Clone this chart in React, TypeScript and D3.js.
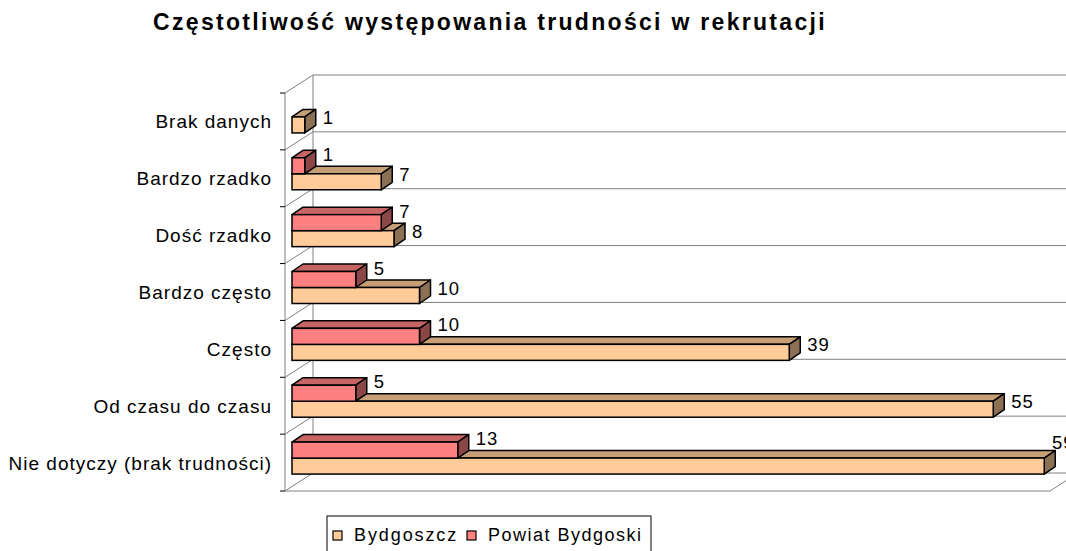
import React from "react";
import * as d3 from "d3";

const title = "Częstotliwość występowania trudności w rekrutacji";
const categories = [
  "Brak danych",
  "Bardzo rzadko",
  "Dość rzadko",
  "Bardzo często",
  "Często",
  "Od czasu do czasu",
  "Nie dotyczy (brak trudności)",
];
const bydgoszcz: (number | null)[] = [1, 7, 8, 10, 39, 55, 59];
const powiat: (number | null)[] = [null, 1, 7, 5, 10, 5, 13];
const seriesNames = ["Bydgoszcz", "Powiat Bydgoski"];
const valueMax = 60;

const W = 1066;
const H = 551;
const FONT = "Arial, 'Liberation Sans', sans-serif";

function shade(c: string, k: number) {
  const col = d3.rgb(c);
  return d3.rgb(col.r * k, col.g * k, col.b * k).formatHex();
}

export default function App() {
  // geometry of the 3D box
  const frontLeft = 285;
  const frontRight = 1050;
  const frontTop = 93;
  const frontBottom = 491;
  const wdx = 28;
  const wdy = -18;
  // bars sit at a quarter of the depth
  const bdx0 = 7;
  const bdy0 = -4.5;
  const bdx = 11;
  const bdy = -7.5;
  const barH = 16;

  const x = d3.scaleLinear().domain([0, valueMax]).range([frontLeft, frontRight]);
  const y = d3.scaleBand<string>().domain(categories).range([frontTop, frontBottom]).padding(0);
  const bw = y.bandwidth();

  const colors = ["#FFCC99", "#FF8080"];
  const grid = "#808080";

  const boundaries = d3.range(categories.length + 1).map((i) => frontTop + i * bw);

  const bar3d = (v: number, yTop: number, color: string, key: string) => {
    const x0 = x(0) + bdx0;
    const x1 = x(v) + bdx0;
    const y0 = yTop + bdy0;
    const y1 = y0 + barH;
    const top = [
      [x0, y0],
      [x1, y0],
      [x1 + bdx, y0 + bdy],
      [x0 + bdx, y0 + bdy],
    ];
    const side = [
      [x1, y0],
      [x1 + bdx, y0 + bdy],
      [x1 + bdx, y1 + bdy],
      [x1, y1],
    ];
    const pts = (p: number[][]) => p.map((q) => q.join(",")).join(" ");
    return (
      <g key={key}>
        <polygon points={pts(top)} fill={shade(color, 0.78)} stroke="#000" strokeWidth={1.5} strokeLinejoin="round" />
        <polygon points={pts(side)} fill={shade(color, 0.55)} stroke="#000" strokeWidth={1.5} strokeLinejoin="round" />
        <rect x={x0} y={y0} width={x1 - x0} height={barH} fill={color} stroke="#000" strokeWidth={1.5} />
      </g>
    );
  };

  const label = (v: number, yTop: number, key: string, dyOff: number) => {
    let lx = x(v) + bdx0 + bdx + 7;
    let ly = yTop + bdy0 + barH / 2 + dyOff + 6;
    if (lx > 1045) {
      lx = 1052;
      ly -= 16;
    }
    return (
      <text key={key} x={lx} y={ly} fontSize={18.5} letterSpacing={1} fontFamily={FONT} fill="#000">
        {v}
      </text>
    );
  };

  return (
    <svg width={W} height={H} style={{ position: "absolute", left: 0, top: 0 }}>
      <rect x={0} y={0} width={W} height={H} fill="#fff" />
      <text x={490} y={30} textAnchor="middle" fontSize={23} fontWeight="bold" letterSpacing={2.3} fontFamily={FONT}>
        {title}
      </text>

      {/* walls */}
      <g stroke={grid} strokeWidth={1} fill="none">
        <line x1={frontLeft} y1={frontTop} x2={frontLeft} y2={frontBottom} />
        <line x1={frontLeft + wdx} y1={frontTop + wdy} x2={frontLeft + wdx} y2={frontBottom + wdy} />
        {boundaries.map((b, i) => (
          <g key={i}>
            <line x1={frontLeft + wdx} y1={b + wdy} x2={frontRight + wdx} y2={b + wdy} />
            <line x1={frontLeft} y1={b} x2={frontLeft + wdx} y2={b + wdy} />
            <line x1={frontLeft - 5} y1={b} x2={frontLeft} y2={b} stroke="#000" />
          </g>
        ))}
        <line x1={frontLeft} y1={frontBottom} x2={frontRight} y2={frontBottom} />
        <line x1={frontRight} y1={frontBottom} x2={frontRight + wdx} y2={frontBottom + wdy} />
        <line x1={frontRight + wdx} y1={frontTop + wdy} x2={frontRight + wdx} y2={frontBottom + wdy} />
      </g>

      {/* category labels */}
      {categories.map((c) => (
        <text
          key={c}
          x={272}
          y={(y(c) as number) + bw / 2 + 7}
          textAnchor="end"
          fontSize={19}
          letterSpacing={1}
          fontFamily={FONT}
        >
          {c}
        </text>
      ))}

      {/* bars */}
      {categories.map((c, i) => {
        const center = (y(c) as number) + bw / 2;
        const b = bydgoszcz[i];
        const p = powiat[i];
        return (
          <g key={c}>
            {b != null && bar3d(b, center, colors[0], "b")}
            {p != null && bar3d(p, center - barH, colors[1], "p")}
          </g>
        );
      })}
      {categories.map((c, i) => {
        const center = (y(c) as number) + bw / 2;
        const b = bydgoszcz[i];
        const p = powiat[i];
        return (
          <g key={"l" + c}>
            {b != null && label(b, center, "bl", -7)}
            {p != null && label(p, center - barH, "pl", -11)}
          </g>
        );
      })}

      {/* legend */}
      <g>
        <rect x={327} y={516} width={324} height={40} fill="#fff" stroke="#000" strokeWidth={1} />
        <rect x={333} y={531} width={9} height={9} fill={colors[0]} stroke="#000" strokeWidth={1.2} />
        <text x={354} y={541} fontSize={18} letterSpacing={1.9} fontFamily={FONT}>
          {seriesNames[0]}
        </text>
        <rect x={467} y={531} width={9} height={9} fill={colors[1]} stroke="#000" strokeWidth={1.2} />
        <text x={488} y={541} fontSize={18} letterSpacing={1.5} fontFamily={FONT}>
          {seriesNames[1]}
        </text>
      </g>
    </svg>
  );
}
